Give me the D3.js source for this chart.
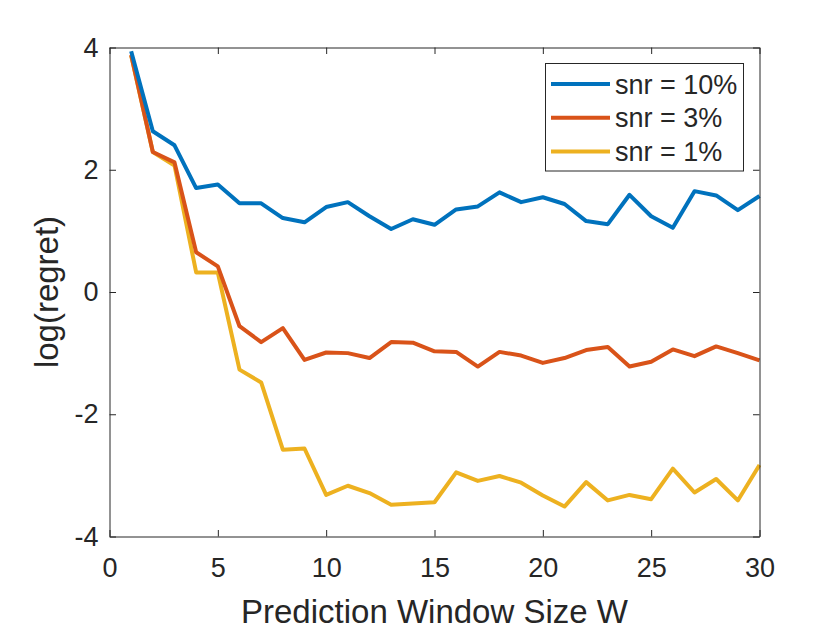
<!DOCTYPE html>
<html>
<head>
<meta charset="utf-8">
<script src="https://cdn.jsdelivr.net/npm/d3@7"></script>
<style>
  body { margin: 0; background: #fff; }
  svg { display: block; }
  text { font-family: "Liberation Sans", Arial, sans-serif; fill: #262626; }
</style>
</head>
<body>
<div id="graph"></div>
<script>
var windowSizes = d3.range(1, 31)

var snr10 = [3.94, 2.63, 2.40, 1.70, 1.76, 1.45, 1.45, 1.21, 1.14, 1.39,
  1.47, 1.24, 1.03, 1.19, 1.10, 1.35, 1.40, 1.63, 1.47, 1.55,
  1.44, 1.16, 1.11, 1.59, 1.24, 1.05, 1.65, 1.58, 1.34, 1.57]

var snr3 = [3.88, 2.29, 2.12, 0.65, 0.42, -0.56, -0.82, -0.59, -1.11, -0.99,
  -1.00, -1.08, -0.82, -0.83, -0.97, -0.98, -1.22, -0.98, -1.04, -1.16,
  -1.08, -0.95, -0.90, -1.22, -1.14, -0.94, -1.05, -0.89, -1.00, -1.12]

var snr1 = [3.87, 2.29, 2.07, 0.32, 0.32, -1.27, -1.48, -2.58, -2.56, -3.32,
  -3.17, -3.29, -3.48, -3.46, -3.44, -2.95, -3.09, -3.01, -3.12, -3.33,
  -3.51, -3.11, -3.41, -3.32, -3.39, -2.89, -3.28, -3.06, -3.41, -2.83]

var seriesNames = ['snr = 10%', 'snr = 3%', 'snr = 1%']
var seriesColors = ['#0072BD', '#D95319', '#EDB120']
var xTicks = [0, 5, 10, 15, 20, 25, 30]
var yTicks = [-4, -2, 0, 2, 4]

var width = 840
var height = 630
// note: don't call these top/left at global scope, window.top is taken
var plotLeft = 109.5, plotRight = 759.5, plotTop = 47.5, plotBottom = 536.5

var svg = d3.select('#graph').append('svg')
  .attr('width', width)
  .attr('height', height)

var xScale = d3.scaleLinear().domain([0, 30]).range([plotLeft, plotRight])
var yScale = d3.scaleLinear().domain([-4, 4]).range([plotBottom, plotTop])

var line = d3.line()
  .x(function(d, i) { return xScale(windowSizes[i]) })
  .y(function(d) { return yScale(d) })

var allSeries = [snr10, snr3, snr1]
// draw last series first so blue ends up on top
for (var s = allSeries.length - 1; s >= 0; s--) {
  svg.append('path')
    .datum(allSeries[s])
    .attr('fill', 'none')
    .attr('stroke', seriesColors[s])
    .attr('stroke-width', 4)
    .attr('stroke-linejoin', 'round')
    .attr('d', line)
}

// axes, ticks pointing inside, box with mirrored ticks
var tickLen = 6.5
var tickFont = 27
var labelFont = 33
// plain hyphen for negatives like matlab, not d3's unicode minus
var plainNum = function(d) { return String(d) }

svg.append('g')
  .attr('transform', 'translate(0,' + plotBottom + ')')
  .call(d3.axisBottom(xScale).tickValues(xTicks).tickFormat(plainNum).tickSizeInner(-tickLen).tickSizeOuter(0).tickPadding(21))
  .call(styleAxis)

svg.append('g')
  .attr('transform', 'translate(0,' + plotTop + ')')
  .call(d3.axisTop(xScale).tickValues(xTicks).tickSizeInner(-tickLen).tickSizeOuter(0).tickFormat(''))
  .call(styleAxis)

svg.append('g')
  .attr('transform', 'translate(' + plotLeft + ',0)')
  .call(d3.axisLeft(yScale).tickValues(yTicks).tickFormat(plainNum).tickSizeInner(-tickLen).tickSizeOuter(0).tickPadding(11))
  .call(styleAxis)

svg.append('g')
  .attr('transform', 'translate(' + plotRight + ',0)')
  .call(d3.axisRight(yScale).tickValues(yTicks).tickSizeInner(-tickLen).tickSizeOuter(0).tickFormat(''))
  .call(styleAxis)

function styleAxis(g) {
  g.select('.domain').attr('stroke', '#262626').attr('stroke-width', 1)
  g.selectAll('.tick line').attr('stroke', '#262626').attr('stroke-width', 1)
  g.selectAll('.tick text')
    .attr('fill', '#262626')
    .style('font-family', '"Liberation Sans", Arial, sans-serif')
    .style('font-size', tickFont + 'px')
}

// axis titles
svg.append('text')
  .attr('x', (plotLeft + plotRight) / 2)
  .attr('y', 622.5)
  .attr('text-anchor', 'middle')
  .style('font-size', labelFont + 'px')
  .text('Prediction Window Size W')

svg.append('text')
  .attr('transform', 'translate(58,' + ((plotTop + plotBottom) / 2) + ') rotate(-90)')
  .attr('text-anchor', 'middle')
  .style('font-size', labelFont + 'px')
  .text('log(regret)')

// legend
var legend = svg.append('g')
legend.append('rect')
  .attr('x', 545.5).attr('y', 63.5)
  .attr('width', 198).attr('height', 107.5)
  .attr('fill', '#fff')
  .attr('stroke', '#262626')
  .attr('stroke-width', 1)

for (var i = 0; i < seriesNames.length; i++) {
  var ly = 84 + i * 33.7
  legend.append('line')
    .attr('x1', 551).attr('x2', 610)
    .attr('y1', ly).attr('y2', ly)
    .attr('stroke', seriesColors[i])
    .attr('stroke-width', 4)
  legend.append('text')
    .attr('x', 615)
    .attr('y', ly)
    .attr('dy', '0.36em')
    .style('font-size', tickFont + 'px')
    .text(seriesNames[i])
}
</script>
</body>
</html>
